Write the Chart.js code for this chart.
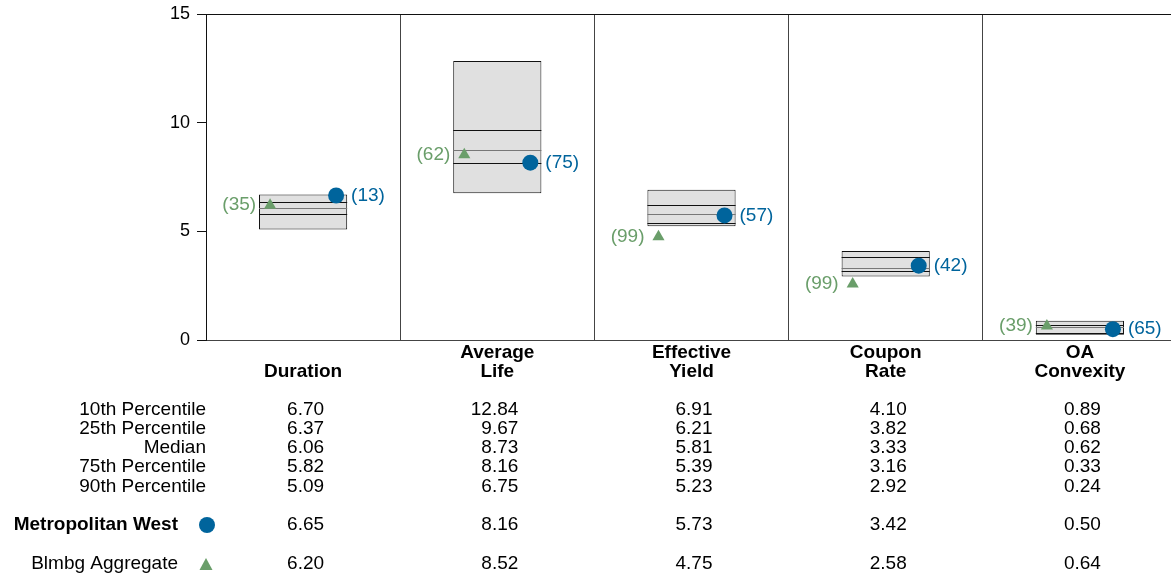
<!DOCTYPE html>
<html>
<head>
<meta charset="utf-8">
<script src="https://cdn.jsdelivr.net/npm/chart.js@4/dist/chart.umd.min.js"></script>
<style>
  body { margin: 0; overflow: hidden; background: #fff; }
  canvas { display: block; }
</style>
</head>
<body>
<canvas id="peerChart" width="1185" height="575"></canvas>
<script>
const categories = [['Duration'], ['Average', 'Life'], ['Effective', 'Yield'], ['Coupon', 'Rate'], ['OA', 'Convexity']];
const p10 = [6.70, 12.84, 6.91, 4.10, 0.89];
const p25 = [6.37, 9.67, 6.21, 3.82, 0.68];
const median = [6.06, 8.73, 5.81, 3.33, 0.62];
const p75 = [5.82, 8.16, 5.39, 3.16, 0.33];
const p90 = [5.09, 6.75, 5.23, 2.92, 0.24];
const metWest = [6.65, 8.16, 5.73, 3.42, 0.50];
const metWestRank = [13, 75, 57, 42, 65];
const blmbg = [6.20, 8.52, 4.75, 2.58, 0.64];
const blmbgRank = [35, 62, 99, 99, 39];
const yTicks = [0, 5, 10, 15];
const rowLabels = ['10th Percentile', '25th Percentile', 'Median', '75th Percentile', '90th Percentile'];

const BLUE = '#00649c';
const GREEN = '#6a9e6a';
const FONT = '"Liberation Sans", Arial, sans-serif';

// box inner lines (quartiles + median)
const boxLines = {
    id: 'boxLines',
    afterDatasetDraw(chart, args) {
        if (args.index !== 0) return;
        const ctx = chart.ctx;
        const y = chart.scales.y;
        args.meta.data.forEach((bar, i) => {
            const left = bar.x - bar.width / 2, right = bar.x + bar.width / 2;
            [[p25[i], '#111'], [median[i], '#777'], [p75[i], '#111']].forEach(([v, col]) => {
                const py = Math.round(y.getPixelForValue(v)) + 0.5;
                ctx.save();
                ctx.strokeStyle = col;
                ctx.lineWidth = 1;
                ctx.beginPath();
                ctx.moveTo(left, py);
                ctx.lineTo(right, py);
                ctx.stroke();
                ctx.restore();
            });
        });
    }
};

// rank labels next to the markers
const rankLabels = {
    id: 'rankLabels',
    afterDatasetsDraw(chart) {
        const ctx = chart.ctx;
        ctx.save();
        ctx.font = '19px ' + FONT;
        ctx.textBaseline = 'middle';
        chart.getDatasetMeta(1).data.forEach((pt, i) => {
            ctx.fillStyle = BLUE;
            ctx.textAlign = 'left';
            ctx.fillText('(' + metWestRank[i] + ')', pt.x + 15, pt.y);
        });
        chart.getDatasetMeta(2).data.forEach((pt, i) => {
            ctx.fillStyle = GREEN;
            ctx.textAlign = 'right';
            ctx.fillText('(' + blmbgRank[i] + ')', pt.x - 14, pt.y);
        });
        ctx.restore();
    }
};

// headers and statistics table under the plot
const statsTable = {
    id: 'statsTable',
    afterDraw(chart) {
        const ctx = chart.ctx;
        const x = chart.scales.x;
        const rowY = [410, 429, 448, 467, 487];
        ctx.save();
        ctx.fillStyle = '#000';
        ctx.textBaseline = 'middle';

        ctx.font = 'bold 19px ' + FONT;
        ctx.textAlign = 'center';
        categories.forEach((lines, i) => {
            const cx = x.getPixelForValue(i);
            lines.forEach((t, k) => {
                ctx.fillText(t, cx, 372 - (lines.length - 1 - k) * 19);
            });
        });

        ctx.font = '19px ' + FONT;
        ctx.textAlign = 'right';
        rowLabels.forEach((t, r) => ctx.fillText(t, 206, rowY[r]));
        ctx.fillText('Blmbg Aggregate', 178, 564);
        ctx.font = 'bold 19px ' + FONT;
        ctx.fillText('Metropolitan West', 178, 525);

        ctx.font = '19px ' + FONT;
        const series = [p10, p25, median, p75, p90];
        categories.forEach((_, i) => {
            const rx = x.getPixelForValue(i) + 21;
            series.forEach((s, r) => ctx.fillText(s[i].toFixed(2), rx, rowY[r]));
            ctx.fillText(metWest[i].toFixed(2), rx, 525);
            ctx.fillText(blmbg[i].toFixed(2), rx, 564);
        });

        // legend markers
        ctx.fillStyle = BLUE;
        ctx.beginPath();
        ctx.arc(207, 525, 8, 0, Math.PI * 2);
        ctx.fill();
        ctx.fillStyle = GREEN;
        ctx.beginPath();
        ctx.moveTo(206, 558);
        ctx.lineTo(212.5, 570);
        ctx.lineTo(199.5, 570);
        ctx.closePath();
        ctx.fill();
        ctx.restore();
    }
};

const ctx = document.getElementById('peerChart').getContext('2d');
new Chart(ctx, {
    data: {
        labels: categories,
        datasets: [
            {
                type: 'bar',
                data: p10.map((v, i) => [p90[i], v]),
                backgroundColor: '#e0e0e0',
                borderColor: '#111',
                borderWidth: 1,
                borderSkipped: false,
                grouped: false,
                barPercentage: 0.454,
                categoryPercentage: 1,
                order: 3
            },
            {
                type: 'scatter',
                xAxisID: 'x2',
                data: metWest.map((v, i) => ({ x: i + 0.67, y: v })),
                pointStyle: 'circle',
                pointRadius: 8,
                backgroundColor: BLUE,
                borderColor: BLUE,
                borderWidth: 0,
                order: 1
            },
            {
                type: 'scatter',
                xAxisID: 'x2',
                data: blmbg.map((v, i) => ({ x: i + 0.33, y: v })),
                pointStyle: 'triangle',
                pointRadius: 7,
                backgroundColor: GREEN,
                borderColor: GREEN,
                borderWidth: 0,
                order: 2
            }
        ]
    },
    options: {
        responsive: false,
        animation: false,
        layout: { padding: { top: 14, bottom: 235, left: 0, right: 0 } },
        plugins: {
            legend: { display: false },
            tooltip: { enabled: false }
        },
        scales: {
            x: {
                type: 'category',
                offset: true,
                ticks: { display: false },
                grid: { color: '#444', lineWidth: 1, drawTicks: false, offset: true },
                border: { display: true, color: '#444', width: 1 },
                afterFit: s => { s.height = 0; }
            },
            x2: {
                type: 'linear',
                position: 'top',
                min: 0,
                max: 5,
                ticks: { display: false },
                grid: { display: false, drawTicks: false },
                border: { display: true, color: '#111', width: 1 },
                afterFit: s => { s.height = 0; }
            },
            y: {
                min: 0,
                max: 15,
                afterBuildTicks: s => { s.ticks = yTicks.map(v => ({ value: v })); },
                ticks: { color: '#000', font: { size: 18, family: FONT }, padding: 7 },
                grid: { drawOnChartArea: false, drawTicks: true, tickLength: 9, color: '#111' },
                border: { display: true, color: '#111', width: 1 },
                afterFit: s => { s.width = 206; s.paddingTop = 0; s.paddingBottom = 0; }
            }
        }
    },
    plugins: [boxLines, rankLabels, statsTable]
});
</script>
</body>
</html>
